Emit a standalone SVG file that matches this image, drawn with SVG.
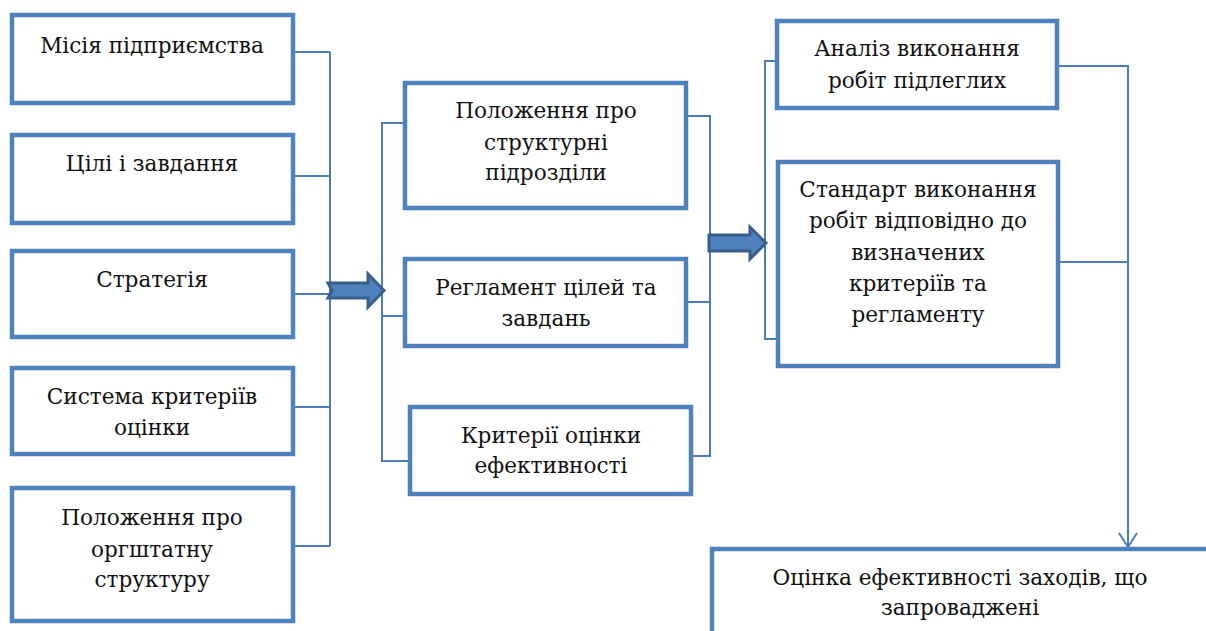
<svg xmlns="http://www.w3.org/2000/svg" width="1206" height="631" viewBox="0 0 1206 631">
  <style>
    .box { fill: #ffffff; stroke: #4F81BD; stroke-width: 4.5; }
    .wire { fill: none; stroke: #4A7EBB; stroke-width: 2; }
    .big { fill: #4F81BD; stroke: #3A5E8C; stroke-width: 3; stroke-linejoin: miter; }
    .lbl { font-family: 'DejaVu Serif', serif; font-size: 21.6px; fill: #111111; text-anchor: middle; }
  </style>
  <defs>
    <!-- open vee head, drawn pointing along +x -->
    <marker id="vee" viewBox="0 0 16 20" refX="15" refY="10" markerWidth="16" markerHeight="20" markerUnits="userSpaceOnUse" orient="auto">
      <path d="M1,1 L15,10 L1,19" fill="none" stroke="#4A7EBB" stroke-width="2"/>
    </marker>
  </defs>

  <!-- connectors -->
  <g id="connectors">
    <path class="wire" d="M293,52 H330 M293,176 H330 M293,294 H330 M293,407 H330 M293,546 H330 M330,52 V546"/>
    <path class="wire" d="M405,123 H382 V461 H410 M382,316 H405"/>
    <path class="wire" d="M686,116 H710 V456 H691 M686,302 H710"/>
    <path class="wire" d="M777,61 H765 V339 H778"/>
    <path class="wire" d="M1058,262 H1128"/>
    <path class="wire" d="M1057,66 H1128 V547" marker-end="url(#vee)"/>
    <path class="big" d="M328,283 L368,283 L368,274 L384,290.5 L368,307 L368,298 L328,298 L332,290.5 Z"/>
    <path class="big" d="M709,235 L750,235 L750,227 L766,243 L750,259 L750,251 L709,251 Z"/>
  </g>

  <!-- left column -->
  <g id="mission">
    <rect class="box" x="12" y="15" width="281" height="88"/>
    <text class="lbl" x="152" y="53">Місія підприємства</text>
  </g>
  <g id="goals">
    <rect class="box" x="12" y="135" width="281" height="88"/>
    <text class="lbl" x="152" y="171">Цілі і завдання</text>
  </g>
  <g id="strategy">
    <rect class="box" x="12" y="251" width="281" height="86"/>
    <text class="lbl" x="152" y="287">Стратегія</text>
  </g>
  <g id="criteria-system">
    <rect class="box" x="12" y="368" width="281" height="86"/>
    <text class="lbl" x="152" y="404">Система критеріїв</text>
    <text class="lbl" x="152" y="435">оцінки</text>
  </g>
  <g id="org-structure">
    <rect class="box" x="12" y="488" width="281" height="133"/>
    <text class="lbl" x="152" y="525">Положення про</text>
    <text class="lbl" x="152" y="557">оргштатну</text>
    <text class="lbl" x="152" y="587">структуру</text>
  </g>

  <!-- middle column -->
  <g id="units">
    <rect class="box" x="405" y="83" width="281" height="125"/>
    <text class="lbl" x="546" y="118">Положення про</text>
    <text class="lbl" x="546" y="150">структурні</text>
    <text class="lbl" x="546" y="180">підрозділи</text>
  </g>
  <g id="regulation">
    <rect class="box" x="405" y="259" width="281" height="87"/>
    <text class="lbl" x="546" y="295">Регламент цілей та</text>
    <text class="lbl" x="546" y="326">завдань</text>
  </g>
  <g id="efficiency-criteria">
    <rect class="box" x="410" y="407" width="281" height="87"/>
    <text class="lbl" x="551" y="443">Критерії оцінки</text>
    <text class="lbl" x="551" y="473">ефективності</text>
  </g>

  <!-- right column -->
  <g id="analysis">
    <rect class="box" x="777" y="21" width="280" height="87"/>
    <text class="lbl" x="917" y="56">Аналіз виконання</text>
    <text class="lbl" x="917" y="88">робіт підлеглих</text>
  </g>
  <g id="standard">
    <rect class="box" x="778" y="162" width="280" height="204"/>
    <text class="lbl" x="918" y="197">Стандарт виконання</text>
    <text class="lbl" x="918" y="228">робіт відповідно до</text>
    <text class="lbl" x="918" y="260">визначених</text>
    <text class="lbl" x="918" y="291">критеріїв та</text>
    <text class="lbl" x="918" y="322">регламенту</text>
  </g>

  <!-- bottom result -->
  <g id="evaluation">
    <rect class="box" x="712" y="549" width="520" height="120"/>
    <text class="lbl" x="960" y="585">Оцінка ефективності заходів, що</text>
    <text class="lbl" x="960" y="615">запроваджені</text>
  </g>
</svg>
